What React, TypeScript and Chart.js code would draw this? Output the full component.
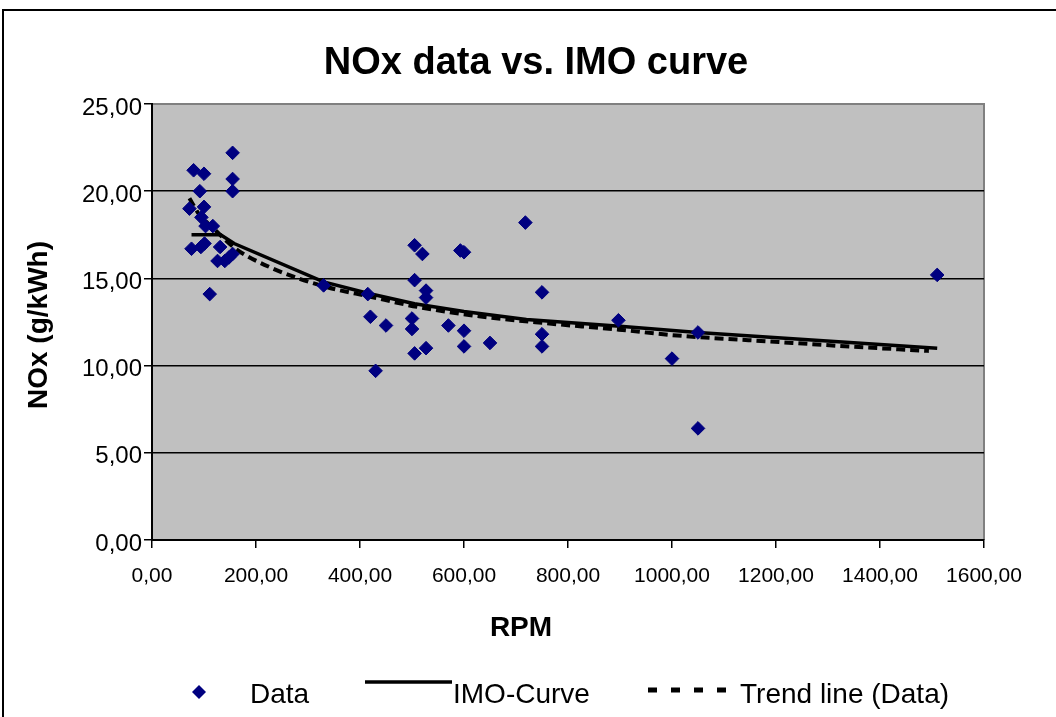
import React, { useEffect, useRef } from "react";
import { Chart, registerables } from "chart.js";

Chart.register(...registerables);

// ---- data ----
const dataRpm = [80, 100, 155, 155, 155, 92, 72, 100, 95, 103, 117, 76, 94, 101, 131, 126, 140, 148, 155, 111, 330, 415, 420, 450, 430, 505, 520, 593, 600, 718, 505, 527, 527, 750, 500, 500, 505, 527, 570, 600, 600, 650, 750, 750, 897, 1000, 1050, 1050, 1510];
const dataNox = [21.2, 21.0, 22.2, 20.7, 20.0, 20.0, 19.0, 19.1, 18.5, 18.0, 18.0, 16.7, 16.8, 17.0, 16.8, 16.0, 16.0, 16.2, 16.4, 14.1, 14.6, 14.1, 12.8, 12.3, 9.7, 16.9, 16.4, 16.6, 16.5, 18.2, 14.9, 14.3, 13.9, 14.2, 12.7, 12.1, 10.7, 11.0, 12.3, 12.0, 11.1, 11.3, 11.8, 11.1, 12.6, 10.4, 11.9, 6.4, 15.2];

const imoRpm = [76, 132, 158, 330, 415, 505, 600, 720, 900, 1050, 1510];
const imoNox = [17.5, 17.5, 17.0, 14.8, 14.15, 13.55, 13.1, 12.65, 12.25, 11.9, 11.0];

const trendRpm = [72, 90, 117, 161, 230, 330, 420, 513, 629, 750, 898, 1000, 1206, 1350, 1494];
const trendNox = [19.6, 18.7, 17.9, 16.7, 15.6, 14.55, 13.95, 13.35, 12.83, 12.45, 12.06, 11.75, 11.35, 11.08, 10.84];

const xTickValues = [0, 200, 400, 600, 800, 1000, 1200, 1400, 1600];
const yTickValues = [0, 5, 10, 15, 20, 25];

const titleText = "NOx data vs. IMO curve";
const xTitleText = "RPM";
const yTitleText = "NOx (g/kWh)";
const legendLabels = ["Data", "IMO-Curve", "Trend line (Data)"];

const FONT = "'Liberation Sans', Arial, Helvetica, sans-serif";
const NAVY = "#000080";

const fmt = (v: number) => v.toFixed(2).replace(".", ",");

const decorPlugin = {
  id: "decor",
  beforeDraw(chart: any) {
    const { ctx, chartArea: a } = chart;
    ctx.save();
    ctx.fillStyle = "#ffffff";
    ctx.fillRect(0, 0, chart.width, chart.height);
    ctx.fillStyle = "#C0C0C0";
    ctx.fillRect(a.left, a.top, a.right - a.left, a.bottom - a.top);
    ctx.strokeStyle = "#808080";
    ctx.lineWidth = 2;
    ctx.beginPath();
    ctx.moveTo(a.left, a.top);
    ctx.lineTo(a.right, a.top);
    ctx.lineTo(a.right, a.bottom);
    ctx.stroke();
    ctx.restore();
  },
  afterDraw(chart: any) {
    const { ctx } = chart;
    ctx.save();
    // outer chart border
    ctx.strokeStyle = "#000";
    ctx.lineWidth = 2;
    ctx.beginPath();
    ctx.moveTo(3, chart.height + 2);
    ctx.lineTo(3, 10);
    ctx.lineTo(chart.width + 2, 10);
    ctx.stroke();

    ctx.fillStyle = "#000";
    ctx.textBaseline = "alphabetic";
    // title
    ctx.font = `bold 38px ${FONT}`;
    ctx.textAlign = "center";
    ctx.fillText(titleText, 536, 74);
    // x title
    ctx.font = `bold 28px ${FONT}`;
    ctx.fillText(xTitleText, 521, 636);
    // y title
    ctx.save();
    ctx.translate(47, 325);
    ctx.rotate(-Math.PI / 2);
    ctx.fillText(yTitleText, 0, 0);
    ctx.restore();

    // legend
    ctx.font = `28px ${FONT}`;
    ctx.textAlign = "left";
    // diamond
    ctx.fillStyle = NAVY;
    ctx.beginPath();
    ctx.moveTo(199, 685);
    ctx.lineTo(206, 692);
    ctx.lineTo(199, 699);
    ctx.lineTo(192, 692);
    ctx.closePath();
    ctx.fill();
    ctx.fillStyle = "#000";
    ctx.fillText(legendLabels[0], 250, 703);
    // solid line
    ctx.strokeStyle = "#000";
    ctx.lineWidth = 3.5;
    ctx.setLineDash([]);
    ctx.beginPath();
    ctx.moveTo(365, 682);
    ctx.lineTo(452, 682);
    ctx.stroke();
    ctx.fillText(legendLabels[1], 453, 703);
    // dashed line (square dots)
    ctx.lineWidth = 5;
    ctx.setLineDash([9, 14]);
    ctx.beginPath();
    ctx.moveTo(648, 690);
    ctx.lineTo(730, 690);
    ctx.stroke();
    ctx.setLineDash([]);
    ctx.fillText(legendLabels[2], 740, 703);
    ctx.restore();
  },
};

export default function App() {
  const ref = useRef<HTMLCanvasElement | null>(null);

  useEffect(() => {
    if (!ref.current) return;
    const chart = new Chart(ref.current, {
      type: "scatter",
      data: {
        datasets: [
          {
            label: legendLabels[0],
            data: dataRpm.map((x, i) => ({ x, y: dataNox[i] })),
            pointStyle: "rectRot",
            pointRadius: 6.8,
            pointBackgroundColor: NAVY,
            pointBorderColor: NAVY,
            pointBorderWidth: 1,
            showLine: false,
          },
          {
            label: legendLabels[1],
            data: imoRpm.map((x, i) => ({ x, y: imoNox[i] })),
            showLine: true,
            borderColor: "#000",
            borderWidth: 3.5,
            pointRadius: 0,
            tension: 0,
          },
          {
            label: legendLabels[2],
            data: trendRpm.map((x, i) => ({ x, y: trendNox[i] })),
            showLine: true,
            borderColor: "#000",
            borderWidth: 4,
            borderDash: [9, 5],
            pointRadius: 0,
            cubicInterpolationMode: "monotone",
          },
        ] as any,
      },
      options: {
        animation: false,
        responsive: false,
        devicePixelRatio: 1,
        layout: { padding: { left: 0, top: 104, right: 72, bottom: 0 } },
        plugins: {
          legend: { display: false },
          title: { display: false },
          tooltip: { enabled: false },
        },
        scales: {
          x: {
            type: "linear",
            min: 0,
            max: 1600,
            afterFit: (s: any) => {
              s.height = 177;
            },
            afterBuildTicks: (s: any) => {
              s.ticks = xTickValues.map((v) => ({ value: v }));
            },
            ticks: {
              callback: (v: any) => fmt(Number(v)),
              font: { family: FONT, size: 21 },
              color: "#000",
              padding: 16,
              maxRotation: 0,
              autoSkip: false,
            },
            grid: {
              drawOnChartArea: false,
              drawTicks: true,
              tickLength: 8,
              color: "#000",
              lineWidth: 1.5,
            },
            border: { display: true, color: "#000", width: 2 },
          },
          y: {
            type: "linear",
            min: 0,
            max: 25,
            afterFit: (s: any) => {
              s.width = 152;
            },
            afterBuildTicks: (s: any) => {
              s.ticks = yTickValues.map((v) => ({ value: v }));
            },
            ticks: {
              callback: (v: any) => fmt(Number(v)),
              font: { family: FONT, size: 24 },
              color: "#000",
              padding: 2,
              labelOffset: 4,
              autoSkip: false,
            },
            grid: {
              color: (c: any) => (c.tick && c.tick.value === 25 ? "#808080" : "#000"),
              tickColor: "#000",
              lineWidth: 1.5,
              tickLength: 8,
            },
            border: { display: true, color: "#000", width: 2 },
          },
        },
      } as any,
      plugins: [decorPlugin],
    });
    return () => chart.destroy();
  }, []);

  return (
    <div style={{ position: "fixed", left: 0, top: 0, width: 1056, height: 717, overflow: "hidden", background: "#fff" }}>
      <canvas ref={ref} width={1056} height={717} style={{ width: 1056, height: 717, display: "block" }} />
    </div>
  );
}
